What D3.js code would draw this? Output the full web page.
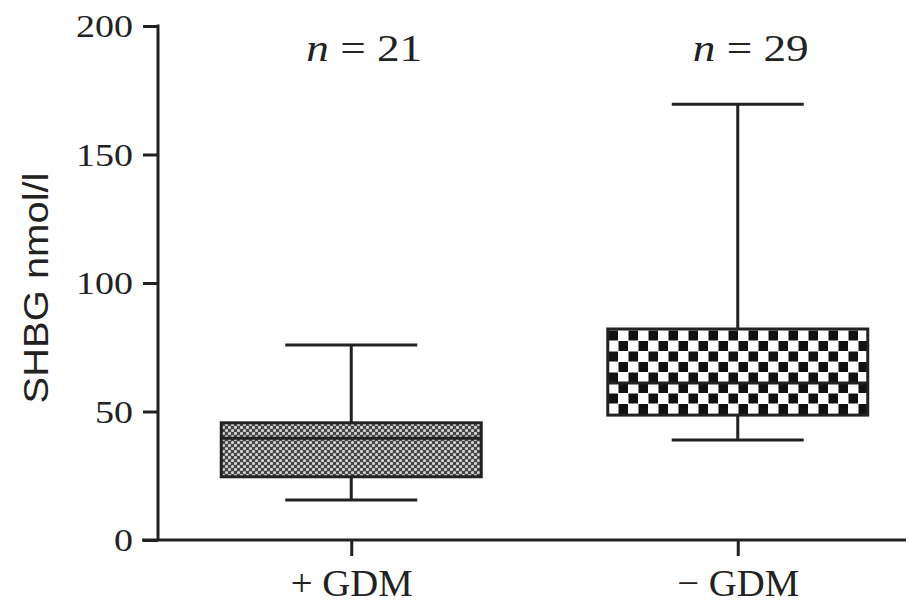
<!DOCTYPE html>
<html>
<head>
<meta charset="utf-8">
<script src="https://cdn.jsdelivr.net/npm/d3@7"></script>
<style>
  body { margin: 0; background: #fff; }
  svg { display: block; }
</style>
</head>
<body>
<svg width="915" height="605"></svg>
<script>
// groups and their box stats (SHBG nmol/l)
const groups = ["+ GDM", "\u2212 GDM"];
const counts = ["n = 21", "n = 29"];
const minVals = [15.6, 38.9];
const q1Vals = [24.6, 48.6];
const medVals = [39.6, 61.1];
const q3Vals = [45.6, 82.1];
const maxVals = [75.9, 169.6];
const yTicks = [0, 50, 100, 150, 200];

const ink = "#222";
const svg = d3.select("svg");

const y = d3.scaleLinear().domain([0, 200]).range([540, 26]);
const x = d3.scalePoint().domain(groups).range([158, 931]).padding(0.5);

// fill patterns
const defs = svg.append("defs");
const dots = defs.append("pattern")
    .attr("id", "dots").attr("patternUnits", "userSpaceOnUse")
    .attr("width", 6).attr("height", 6);
dots.append("rect").attr("width", 6).attr("height", 6).attr("fill", "#444");
dots.append("circle").attr("cx", 1.5).attr("cy", 1.5).attr("r", 1.6).attr("fill", "#d0d0d0");
dots.append("circle").attr("cx", 4.5).attr("cy", 4.5).attr("r", 1.6).attr("fill", "#d0d0d0");

const checks = defs.append("pattern")
    .attr("id", "checks").attr("patternUnits", "userSpaceOnUse")
    .attr("x", 608).attr("y", 330)
    .attr("width", 20).attr("height", 21);
checks.append("rect").attr("width", 20).attr("height", 21).attr("fill", "#fff");
checks.append("rect").attr("x", 0.5).attr("y", 0.5).attr("width", 9.5).attr("height", 10).attr("fill", "#111");
checks.append("rect").attr("x", 10.5).attr("y", 11).attr("width", 9.5).attr("height", 10).attr("fill", "#111");

const fills = ["url(#dots)", "url(#checks)"];

// y axis
const yAxis = svg.append("g")
    .attr("transform", "translate(158,0)")
    .call(d3.axisLeft(y).tickValues(yTicks).tickSize(15).tickSizeOuter(0).tickPadding(10));
yAxis.select(".domain").remove();
yAxis.selectAll(".tick line").attr("stroke", ink).attr("stroke-width", 3);
yAxis.selectAll(".tick text")
    .attr("font-family", "'Liberation Serif', 'Times New Roman', serif")
    .attr("font-size", 32).attr("fill", ink).attr("dy", "0.34em")
    .attr("textLength", d => String(d).length * 19)
    .attr("lengthAdjust", "spacingAndGlyphs");

svg.append("line")
    .attr("x1", 158).attr("x2", 158).attr("y1", y(200) - 1.5).attr("y2", y(0))
    .attr("stroke", ink).attr("stroke-width", 3);

// x axis
const xAxis = svg.append("g")
    .attr("transform", "translate(0,540)")
    .call(d3.axisBottom(x).tickSize(16).tickSizeOuter(0).tickPadding(10));
xAxis.select(".domain").remove();
xAxis.selectAll(".tick line").attr("stroke", ink).attr("stroke-width", 3);
xAxis.selectAll(".tick text")
    .attr("font-family", "'Liberation Serif', 'Times New Roman', serif")
    .attr("font-size", 38).attr("fill", ink)
    .attr("dy", "0.78em")
    .attr("textLength", 122).attr("lengthAdjust", "spacingAndGlyphs");

svg.append("line")
    .attr("x1", 142).attr("x2", 906).attr("y1", y(0)).attr("y2", y(0))
    .attr("stroke", ink).attr("stroke-width", 3);

// boxes
const boxHalf = 130, capHalf = 66;
const boxes = svg.append("g").selectAll("g")
    .data(groups).enter().append("g");

boxes.append("line")
    .attr("x1", d => x(d)).attr("x2", d => x(d))
    .attr("y1", (d, i) => y(maxVals[i])).attr("y2", (d, i) => y(minVals[i]))
    .attr("stroke", ink).attr("stroke-width", 3);

boxes.append("rect")
    .attr("x", d => x(d) - boxHalf).attr("width", boxHalf * 2)
    .attr("y", (d, i) => y(q3Vals[i]))
    .attr("height", (d, i) => y(q1Vals[i]) - y(q3Vals[i]))
    .attr("fill", (d, i) => fills[i])
    .attr("stroke", ink).attr("stroke-width", 3);

boxes.append("line")
    .attr("x1", d => x(d) - boxHalf).attr("x2", d => x(d) + boxHalf)
    .attr("y1", (d, i) => y(medVals[i])).attr("y2", (d, i) => y(medVals[i]))
    .attr("stroke", ink).attr("stroke-width", 3);

[maxVals, minVals].forEach(vals => {
  boxes.append("line")
      .attr("x1", d => x(d) - capHalf).attr("x2", d => x(d) + capHalf)
      .attr("y1", (d, i) => y(vals[i])).attr("y2", (d, i) => y(vals[i]))
      .attr("stroke", ink).attr("stroke-width", 3);
});

// n labels
const nText = svg.append("g").selectAll("text")
    .data(counts).enter().append("text")
    .attr("x", (d, i) => x(groups[i]) + 13)
    .attr("y", 61)
    .attr("text-anchor", "middle")
    .attr("font-family", "'Liberation Serif', 'Times New Roman', serif")
    .attr("font-size", 37).attr("fill", ink)
    .attr("textLength", 116).attr("lengthAdjust", "spacingAndGlyphs");
nText.append("tspan").attr("font-style", "italic").text("n");
nText.append("tspan").text(d => d.slice(1));

// y title
svg.append("text")
    .attr("transform", "translate(48,288) rotate(-90)")
    .attr("text-anchor", "middle")
    .attr("font-family", "'Liberation Sans', Arial, sans-serif")
    .attr("font-size", 35).attr("fill", ink)
    .attr("textLength", 231).attr("lengthAdjust", "spacingAndGlyphs")
    .text("SHBG nmol/l");
</script>
</body>
</html>
